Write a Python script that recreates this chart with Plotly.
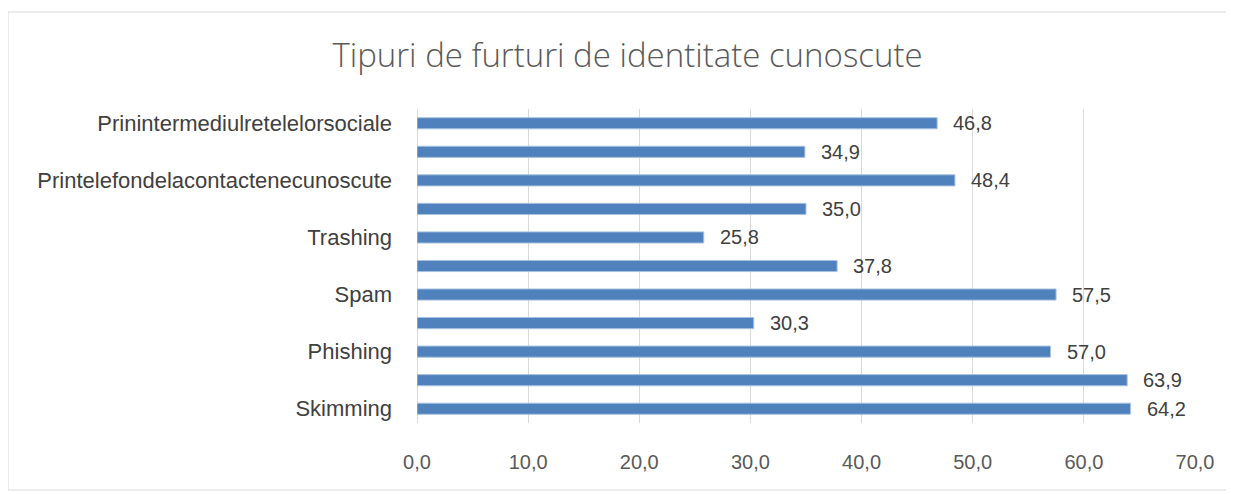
import plotly.graph_objects as go

# Categories bottom -> top (only every other label is shown in the reference)
labels = ["Skimming", "", "Phishing", "", "Spam", "", "Trashing", "",
          "Printelefondelacontactenecunoscute", "", "Prinintermediulretelelorsociale"]
values = [64.2, 63.9, 57.0, 30.3, 57.5, 37.8, 25.8, 35.0, 48.4, 34.9, 46.8]
x_ticks = [0, 10, 20, 30, 40, 50, 60, 70]
x_tick_text = ["0,0", "10,0", "20,0", "30,0", "40,0", "50,0", "60,0", "70,0"]

FONT = "Liberation Sans, Arial, sans-serif"
positions = list(range(len(values)))

fig = go.Figure()
fig.add_trace(go.Bar(
    x=values, y=positions, orientation="h",
    width=0.39,
    marker=dict(color="#4F81BD", line=dict(color="#A9C2E0", width=1)),
    hoverinfo="x",
))

for p, v in zip(positions, values):
    fig.add_annotation(x=v, y=p, xref="x", yref="y", text=f"{v:.1f}".replace(".", ","),
                       showarrow=False, xanchor="left", yanchor="middle", xshift=14,
                       font=dict(family=FONT, size=20, color="#404040"))

shown = [(p, l) for p, l in zip(positions, labels) if l]

fig.update_layout(
    width=1226, height=486,
    margin=dict(l=409, r=39, t=101, b=71),
    paper_bgcolor="white", plot_bgcolor="white",
    showlegend=False,
    title=dict(text="Tipuri de furturi de identitate cunoscute",
               x=0.5053, xanchor="center", y=0.902, yanchor="middle",
               font=dict(family="Open Sans, Liberation Sans, sans-serif", size=33,
                         color="#595959", weight=300)),
    xaxis=dict(range=[0, 70], tickvals=x_ticks, ticktext=x_tick_text,
               showgrid=True, gridcolor="#D9D9D9", gridwidth=1,
               zeroline=True, zerolinecolor="#D9D9D9", zerolinewidth=1,
               showline=False, ticks="", ticklabelstandoff=25,
               tickfont=dict(family=FONT, size=20, color="#595959")),
    yaxis=dict(range=[-0.5, len(values) - 0.5],
               tickvals=[p for p, _ in shown], ticktext=[l for _, l in shown],
               showgrid=False, zeroline=False, showline=False, ticks="",
               ticklabelstandoff=24,
               tickfont=dict(family=FONT, size=22, color="#404040")),
    shapes=[dict(type="rect", xref="paper", yref="paper",
                 x0=-0.5257, x1=1.0424, y0=-0.2134, y1=1.309,
                 line=dict(color="#D9D9D9", width=1), fillcolor="rgba(0,0,0,0)")],
)

fig.write_html("out.html")
